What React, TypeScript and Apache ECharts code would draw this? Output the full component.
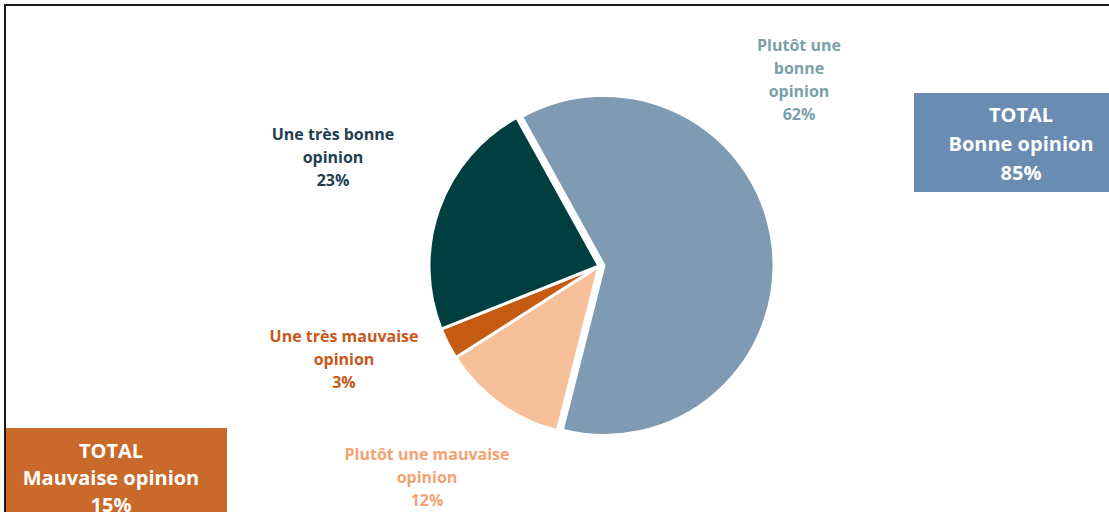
import React, { useEffect, useRef } from "react";
import * as echarts from "echarts";

const categories = [
  "Plutôt une bonne opinion",
  "Plutôt une mauvaise opinion",
  "Une très mauvaise opinion",
  "Une très bonne opinion",
];
const labelLines = [
  ["Plutôt une", "bonne", "opinion"],
  ["Plutôt une mauvaise", "opinion"],
  ["Une très mauvaise", "opinion"],
  ["Une très bonne", "opinion"],
];
const values = [62, 12, 3, 23];
const goodIdx = [0, 3];
const badIdx = [1, 2];
const explodedIdx = 0;

const sliceColors = ["#7F9AB3", "#F6C09A", "#C55A11", "#003F3F"];
const labelColors = ["#7BA0AB", "#F4A272", "#C8581A", "#1D4150"];
const labelPos = [
  [799, 79],
  [427, 477],
  [344, 359],
  [333, 157],
];

const FONT = "'Open Sans', Lato, sans-serif";
const CX = 599;
const CY = 266;
const R = 170;

export default function App() {
  const ref = useRef<HTMLDivElement>(null);
  useEffect(() => {
    if (!ref.current) return;
    const chart = echarts.init(ref.current, undefined, { renderer: "svg" });
    const good = goodIdx.reduce((s, i) => s + values[i], 0);
    const bad = badIdx.reduce((s, i) => s + values[i], 0);
    const common = {
      type: "pie",
      radius: R,
      startAngle: 119,
      clockwise: true,
      emphasis: { disabled: true },
      silent: true,
      labelLine: { show: false },
    };
    chart.setOption({
      animation: false,
      backgroundColor: "#ffffff",
      series: [
        {
          ...common,
          center: [CX, CY],
          label: {
            show: true,
            position: "outside",
            fontFamily: FONT,
            fontWeight: "bold",
            fontSize: 16,
            lineHeight: 23,
            align: "center",
            formatter: (p: any) =>
              labelLines[p.dataIndex].join("\n") + "\n" + values[p.dataIndex] + "%",
          },
          labelLayout: (p: any) => {
            const pos = labelPos[p.dataIndex];
            return {
              x: pos[0],
              y: pos[1],
              align: "center",
              verticalAlign: "middle",
              hideOverlap: false,
              moveOverlap: false,
            };
          },
          data: categories.map((name, i) => ({
            name,
            value: values[i],
            itemStyle:
              i === explodedIdx
                ? { color: "rgba(0,0,0,0)", borderWidth: 0 }
                : { color: sliceColors[i], borderColor: "#ffffff", borderWidth: 3 },
            label: { color: labelColors[i] },
          })),
        },
        {
          ...common,
          center: [CX + 5, CY - 0.6],
          label: { show: false },
          z: 1,
          data: categories.map((name, i) => ({
            name,
            value: values[i],
            itemStyle:
              i === explodedIdx
                ? { color: sliceColors[i], borderColor: "#ffffff", borderWidth: 3 }
                : { color: "rgba(0,0,0,0)", borderWidth: 0 },
          })),
        },
      ],
      graphic: [
        {
          type: "rect",
          shape: { x: 5, y: 5, width: 1200, height: 600 },
          style: { fill: "none", stroke: "#1a1a1a", lineWidth: 2 },
          silent: true,
          z: 10,
        },
        {
          type: "rect",
          shape: { x: 914, y: 93, width: 200, height: 99 },
          style: { fill: "#6A8BB2" },
        },
        {
          type: "text",
          x: 1021,
          y: 143,
          style: {
            text: "TOTAL\nBonne opinion\n" + good + "%",
            fill: "#ffffff",
            font: "bold 20px " + FONT,
            lineHeight: 29,
            align: "center",
            verticalAlign: "middle",
          },
        },
        {
          type: "rect",
          shape: { x: 5, y: 428, width: 222, height: 100 },
          style: { fill: "#C9692A" },
        },
        {
          type: "text",
          x: 111,
          y: 477,
          style: {
            text: "TOTAL\nMauvaise opinion\n" + bad + "%",
            fill: "#ffffff",
            font: "bold 20px " + FONT,
            lineHeight: 27,
            align: "center",
            verticalAlign: "middle",
          },
        },
      ],
    });
    return () => chart.dispose();
  }, []);
  return (
    <div
      ref={ref}
      style={{ position: "absolute", left: 0, top: 0, width: 1109, height: 512 }}
    />
  );
}
